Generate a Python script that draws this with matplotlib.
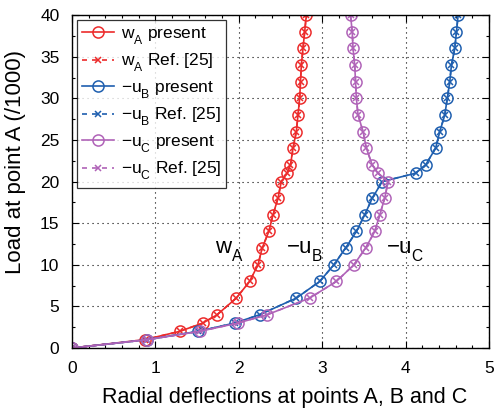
import matplotlib
matplotlib.use("Agg")
import matplotlib.pyplot as plt
from matplotlib.ticker import MultipleLocator
from matplotlib import _mathtext

plt.rcParams['font.family'] = ['Liberation Sans', 'DejaVu Sans']
plt.rcParams['mathtext.default'] = 'regular'
# drop subscripts a bit lower than the mathtext default
_mathtext.FontConstantsBase.sub1 = 0.7
_mathtext.FontConstantsBase.subdrop = 0.7

# load steps (/1000)
load = [0, 1, 2, 3, 4, 6, 8, 10, 12, 14, 16, 18, 20, 21, 22,
        24, 26, 28, 30, 32, 34, 36, 38, 40]

# radial deflections at A, B and C
w_A = [0, 0.87, 1.29, 1.57, 1.74, 1.97, 2.13, 2.23, 2.28, 2.36, 2.41, 2.47,
       2.51, 2.58, 2.62, 2.65, 2.69, 2.71, 2.73, 2.74, 2.75, 2.77, 2.79, 2.81]
u_B = [0, 0.90, 1.51, 1.95, 2.25, 2.69, 2.97, 3.14, 3.28, 3.41, 3.51, 3.60,
       3.72, 4.12, 4.24, 4.36, 4.41, 4.47, 4.50, 4.53, 4.55, 4.59, 4.61, 4.63]
u_C = [0, 0.90, 1.53, 1.99, 2.34, 2.85, 3.17, 3.38, 3.52, 3.63, 3.69, 3.75,
       3.79, 3.67, 3.60, 3.53, 3.49, 3.43, 3.41, 3.40, 3.39, 3.37, 3.36, 3.34]

# reference solution [25]
w_A_ref = list(w_A)
u_B_ref = list(u_B)
u_C_ref = list(u_C)

red = '#EC2B2B'
blue = '#1F5FAF'
purple = '#B063B8'

fig = plt.figure(figsize=(5.01, 4.08), dpi=100)
ax = fig.add_axes([0.1437, 0.147, 0.8323, 0.816])

series = [
    (w_A, w_A_ref, red, 'w$_A$'),
    (u_B, u_B_ref, blue, '\u2212u$_B$'),
    (u_C, u_C_ref, purple, '\u2212u$_C$'),
]
for pres, ref, c, name in series:
    ax.plot(pres, load, '-', color=c, lw=1.2, marker='o', ms=8,
            mfc='none', mew=1.1, label=name + ' present')
    ax.plot(ref, load, '--', color=c, lw=1.2, marker='x', ms=5,
            mew=1.1, dashes=(3, 3), label=name + ' Ref. [25]')

ax.set_xlim(0, 5)
ax.set_ylim(0, 40)
ax.xaxis.set_major_locator(MultipleLocator(1))
ax.xaxis.set_minor_locator(MultipleLocator(0.2))
ax.yaxis.set_major_locator(MultipleLocator(5))
ax.yaxis.set_minor_locator(MultipleLocator(2.5))
ax.tick_params(which='both', direction='in', top=True, right=True,
               labelsize=12.5, width=0.8)
ax.tick_params(which='major', length=5, pad=9)
ax.tick_params(which='minor', length=2.5)
ax.grid(True, which='major', color='black', linestyle=(0, (1, 3.5)), lw=0.8)
for s in ax.spines.values():
    s.set_linewidth(1.0)

ax.set_xlabel('Radial deflections at points A, B and C', fontsize=15.5, labelpad=8)
ax.set_ylabel('Load at point A (/1000)', fontsize=16, labelpad=10)
ax.yaxis.label.set_y(0.56)
ax.xaxis.label.set_x(0.51)

ax.text(1.715, 11.35, 'w$_A$', fontsize=16)
ax.text(2.566, 11.35, '\u2212u$_B$', fontsize=16)
ax.text(3.77, 11.35, '\u2212u$_C$', fontsize=16)

leg = ax.legend(loc='upper left', fontsize=12.5, frameon=True, fancybox=False,
                edgecolor='black', handlelength=1.8, labelspacing=0.3,
                borderaxespad=0.3, handletextpad=0.4, borderpad=0.3)
leg.get_frame().set_linewidth(0.9)

fig.savefig('out.png', dpi=100)
